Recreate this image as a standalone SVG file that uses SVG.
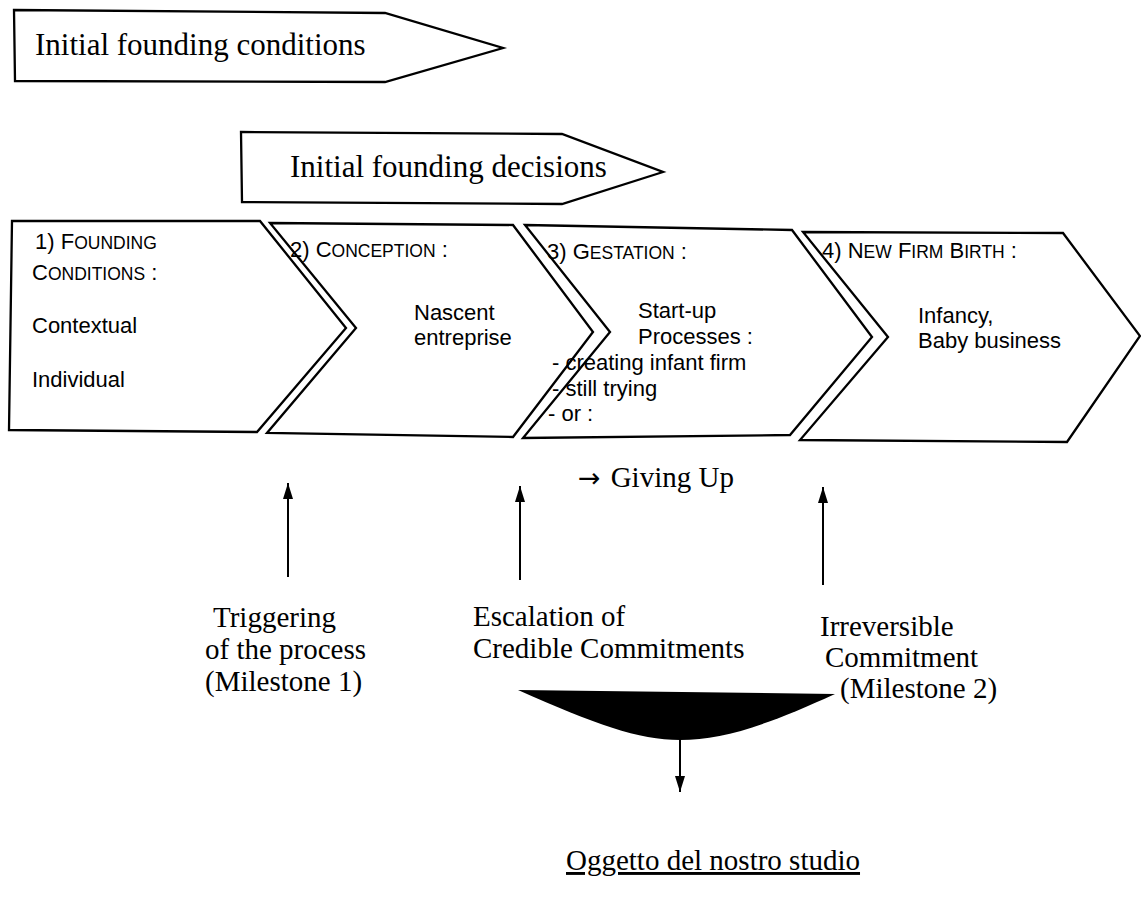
<svg xmlns="http://www.w3.org/2000/svg" width="1141" height="898" viewBox="0 0 1141 898">
  <style>
    .shape { fill: #fff; stroke: #000; stroke-width: 2.3; stroke-linejoin: miter; }
    .serif { font-family: "Liberation Serif", "Times New Roman", serif; fill: #000; }
    .title { font-size: 31px; }
    .label { font-size: 29px; }
    .sans { font-family: "Liberation Sans", Arial, sans-serif; fill: #000; font-size: 22px; }
    .sc { font-size: 17.5px; }
    .sym { font-family: "DejaVu Sans", sans-serif; font-size: 27px; }
    .conn { stroke: #000; stroke-width: 2; fill: none; }
  </style>
  <defs>
    <marker id="head" viewBox="0 0 16 10" markerWidth="16" markerHeight="10" refX="16" refY="5" orient="auto" markerUnits="userSpaceOnUse">
      <path d="M0,0 L16,5 L0,10 Z" fill="#000"/>
    </marker>
  </defs>
  <rect width="1141" height="898" fill="#fff"/>

  <!-- banner arrows -->
  <g id="initial-conditions">
    <polygon class="shape" points="14,10 385,13 503,48 385,82 15,81"/>
    <text class="serif title" x="35" y="55">Initial founding conditions</text>
  </g>
  <g id="initial-decisions">
    <polygon class="shape" points="241,132 562,134 663,172 562,204 242,202"/>
    <text class="serif title" x="290" y="177">Initial founding decisions</text>
  </g>

  <!-- stage chevrons -->
  <g id="stage-1">
    <polygon class="shape" points="12,221 260,221 346,328 257,432 9,430"/>
    <text class="sans" x="35" y="249">1) F<tspan class="sc">OUNDING</tspan></text>
    <text class="sans" x="32" y="280">C<tspan class="sc">ONDITIONS</tspan> :</text>
    <text class="sans" x="32" y="333">Contextual</text>
    <text class="sans" x="32" y="387">Individual</text>
  </g>
  <g id="stage-2">
    <polygon class="shape" points="270,223 513,225 593,332 513,437 267,433 356,328"/>
    <text class="sans" x="290" y="257">2) C<tspan class="sc">ONCEPTION</tspan> :</text>
    <text class="sans" x="414" y="320">Nascent</text>
    <text class="sans" x="414" y="345">entreprise</text>
  </g>
  <g id="stage-3">
    <polygon class="shape" points="525,225 792,230 872,337 790,435 523,438 610,332"/>
    <text class="sans" x="547" y="259">3) G<tspan class="sc">ESTATION</tspan> :</text>
    <text class="sans" x="638" y="318">Start-up</text>
    <text class="sans" x="638" y="344">Processes :</text>
    <text class="sans" x="552" y="370">- creating infant firm</text>
    <text class="sans" x="552" y="396">- still trying</text>
    <text class="sans" x="548" y="421">- or :</text>
  </g>
  <g id="stage-4">
    <polygon class="shape" points="803,232 1063,233 1140,336 1067,442 800,440 888,337"/>
    <text class="sans" x="822" y="258">4) N<tspan class="sc">EW</tspan> F<tspan class="sc">IRM</tspan> B<tspan class="sc">IRTH</tspan> :</text>
    <text class="sans" x="918" y="323">Infancy,</text>
    <text class="sans" x="918" y="348">Baby business</text>
  </g>

  <!-- outcomes and milestones -->
  <g id="giving-up">
    <text class="serif label" x="578" y="487"><tspan class="sym">→</tspan><tspan dx="10">Giving Up</tspan></text>
  </g>
  <g id="milestone-1">
    <text class="serif label" x="213" y="627">Triggering</text>
    <text class="serif label" x="205" y="659">of the process</text>
    <text class="serif label" x="205" y="691">(Milestone 1)</text>
  </g>
  <g id="escalation">
    <text class="serif label" x="473" y="626">Escalation of</text>
    <text class="serif label" x="473" y="658">Credible Commitments</text>
  </g>
  <g id="milestone-2">
    <text class="serif label" x="820" y="636">Irreversible</text>
    <text class="serif label" x="825" y="667">Commitment</text>
    <text class="serif label" x="840" y="698">(Milestone 2)</text>
  </g>
  <g id="funnel">
    <path d="M518,690 L835,694 C765,726 722,740 680,740 C638,740 595,724 518,690 Z" fill="#000"/>
  </g>
  <g id="study-object">
    <text class="serif label" x="566" y="870" text-decoration="underline">Oggetto del nostro studio</text>
  </g>

  <!-- connectors -->
  <g id="connectors">
    <line class="conn" x1="288" y1="577" x2="288" y2="483" marker-end="url(#head)"/>
    <line class="conn" x1="520" y1="580" x2="520" y2="486" marker-end="url(#head)"/>
    <line class="conn" x1="823" y1="585" x2="823" y2="487" marker-end="url(#head)"/>
    <line class="conn" x1="680" y1="739" x2="680" y2="792" marker-end="url(#head)"/>
  </g>
</svg>
